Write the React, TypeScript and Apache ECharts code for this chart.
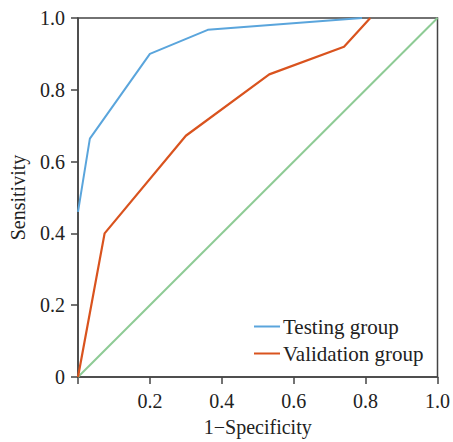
import React, { useEffect, useRef } from "react";
import * as echarts from "echarts";

const testingX = [0, 0.033, 0.2, 0.361, 0.79];
const testingY = [0.46, 0.664, 0.9, 0.967, 1.0];
const validationX = [0, 0.074, 0.3, 0.532, 0.74, 0.813];
const validationY = [0, 0.4, 0.672, 0.843, 0.92, 1.0];
const refX = [0, 1];
const refY = [0, 1];
const seriesNames = ["Testing group", "Validation group"];

const FONT = "'Liberation Serif', 'DejaVu Serif', serif";

export default function App() {
  const ref = useRef<HTMLDivElement>(null);
  useEffect(() => {
    if (!ref.current) return;
    const chart = echarts.init(ref.current, undefined, { renderer: "svg" });
    const zip = (xs: number[], ys: number[]) => xs.map((x, i) => [x, ys[i]]);
    chart.setOption({
      animation: false,
      textStyle: { fontFamily: FONT },
      grid: {
        left: 76,
        right: 14,
        top: 18,
        bottom: 61,
        show: true,
        borderColor: "#444",
        borderWidth: 1.5,
      },
      legend: {
        data: seriesNames,
        orient: "vertical",
        left: 254,
        top: 316,
        padding: 0,
        itemWidth: 26,
        itemHeight: 2,
        itemGap: 6,
        icon: "rect",
        textStyle: { fontFamily: FONT, fontSize: 21, color: "#222", padding: [0, 0, 0, -2], lineHeight: 21 },
      },
      xAxis: {
        type: "value",
        min: 0,
        max: 1,
        interval: 0.2,
        name: "1−Specificity",
        nameLocation: "middle",
        nameGap: 40,
        nameTextStyle: { fontFamily: FONT, fontSize: 20, color: "#222" },
        axisLine: { show: true, lineStyle: { color: "#444", width: 1.5 } },
        axisTick: { show: true, inside: false, length: 7, lineStyle: { color: "#444", width: 1.5 } },
        axisLabel: {
          fontFamily: FONT,
          fontSize: 20,
          color: "#222",
          margin: 14,
          formatter: (v: number) => (v === 0 ? "" : v.toFixed(1)),
        },
        splitLine: { show: false },
      },
      yAxis: {
        type: "value",
        min: 0,
        max: 1,
        interval: 0.2,
        name: "Sensitivity",
        nameLocation: "middle",
        nameGap: 50,
        nameTextStyle: { fontFamily: FONT, fontSize: 20, color: "#222" },
        axisLine: { show: true, lineStyle: { color: "#444", width: 1.5 } },
        axisTick: { show: true, inside: false, length: 7, lineStyle: { color: "#444", width: 1.5 } },
        axisLabel: {
          fontFamily: FONT,
          fontSize: 20,
          color: "#222",
          margin: 13,
          formatter: (v: number) => (v === 0 ? "0" : v.toFixed(1)),
        },
        splitLine: { show: false },
      },
      series: [
        {
          name: "Reference",
          type: "line",
          data: zip(refX, refY),
          symbol: "none",
          lineStyle: { color: "#8ECB95", width: 2 },
          itemStyle: { color: "#8ECB95" },
          z: 1,
        },
        {
          name: seriesNames[0],
          type: "line",
          data: zip(testingX, testingY),
          symbol: "none",
          lineStyle: { color: "#5AA5DC", width: 2 },
          itemStyle: { color: "#5AA5DC" },
          z: 3,
        },
        {
          name: seriesNames[1],
          type: "line",
          data: zip(validationX, validationY),
          symbol: "none",
          lineStyle: { color: "#D9531E", width: 2.2 },
          itemStyle: { color: "#D9531E" },
          z: 2,
        },
      ],
    });
    return () => chart.dispose();
  }, []);
  return (
    <div
      ref={ref}
      style={{ position: "absolute", left: 0, top: 0, width: 453, height: 442 }}
    />
  );
}
